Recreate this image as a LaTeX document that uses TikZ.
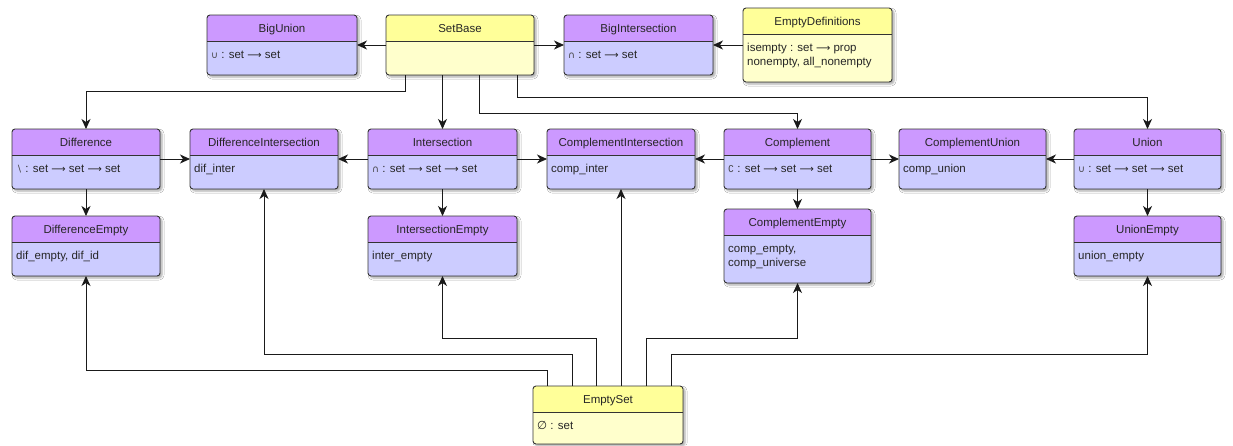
\documentclass[tikz,border=0pt]{standalone}
\usepackage{fontspec}
\setmainfont{Liberation Sans}
\newfontfamily\symfont{DejaVu Sans}
\usetikzlibrary{arrows.meta,shadows.blur,calc}

\definecolor{violethead}{HTML}{CC99FF}
\definecolor{violetbody}{HTML}{CCCCFF}
\definecolor{yellowhead}{HTML}{FFFF99}
\definecolor{yellowbody}{HTML}{FFFFCC}
\definecolor{framegray}{HTML}{333333}
\definecolor{wire}{HTML}{1A1A1A}
\definecolor{symgray}{HTML}{444444}

% header height, title baseline and first body baseline below the top edge
\def\headh{26.5pt}
\def\titledrop{17.25pt}
\def\bodydrop{43pt}

% small operator glyphs and the function arrow
\newcommand\op[1]{{\symfont\fontsize{9.5}{12}\selectfont\color{symgray}#1}}
\newcommand\fto{{\symfont\fontsize{10}{12}\selectfont ⟶}}

% class box: #1 colour scheme, #2 name, #3 left, #4 top, #5 width, #6 height, #7 title, #8 body
\newcommand\umlclass[8]{%
  \node[classframe, fill=#1body, minimum width=#5pt, minimum height=#6pt] (#2) at (#3,#4) {};
  \begin{scope}
    \clip[rounded corners=3pt] (#2.north west) rectangle (#2.south east);
    \fill[#1head] (#2.north west) rectangle ([yshift=-\headh]#2.north east);
  \end{scope}
  \draw[framegray, line width=0.8pt] ([yshift=-\headh]#2.north west) -- ([yshift=-\headh]#2.north east);
  \draw[framegray, line width=0.9pt, rounded corners=3pt] (#2.north west) rectangle (#2.south east);
  \node[titletext] (#2-title) at ([yshift=-\titledrop]#2.north) {#7};
  \node[bodytext] (#2-body) at ([xshift=4pt,yshift=-\bodydrop]#2.north west) {#8};
}
\newcommand\twolines[2]{\vtop{\hbox{#1}\hbox{#2}}}

\tikzset{
  classframe/.style={rectangle, anchor=north west, inner sep=0pt, outer sep=0pt,
    rounded corners=3pt,
    blur shadow={shadow xshift=2pt, shadow yshift=-2pt, shadow blur radius=2pt, shadow opacity=35}},
  titletext/.style={anchor=base, inner sep=0pt, text=black!85,
    font=\fontsize{11.5}{14}\selectfont},
  bodytext/.style={anchor=base west, inner sep=0pt, text=black!85,
    font=\fontsize{11.5}{14}\selectfont},
  arr/.style={draw=wire, line width=0.9pt, -{Stealth[length=10pt,width=9pt,inset=3pt]}},
}

\begin{document}
\begin{tikzpicture}[x=1pt,y=-1pt]
  \fill[white] (0,0) rectangle (1233,445);
  \useasboundingbox (0,0) rectangle (1233,445);

  % top row
  \umlclass{violet}{bigunion}{207}{15}{150}{60}{BigUnion}{\op{∪} : set \fto{} set}
  \umlclass{yellow}{setbase}{386}{15}{148}{60}{SetBase}{}
  \umlclass{violet}{biginter}{564}{15}{149}{60}{BigIntersection}{\op{∩} : set \fto{} set}
  \umlclass{yellow}{emptydefs}{743}{8}{149}{74}{EmptyDefinitions}{\twolines{isempty : set \fto{} prop}{nonempty, all\_nonempty}}

  % operations
  \umlclass{violet}{difference}{12}{129}{148}{60}{Difference}{\op{∖} : set \fto{} set \fto{} set}
  \umlclass{violet}{diffinter}{190}{129}{148}{60}{DifferenceIntersection}{dif\_inter}
  \umlclass{violet}{intersection}{368}{129}{149}{60}{Intersection}{\op{∩} : set \fto{} set \fto{} set}
  \umlclass{violet}{compinter}{547}{129}{148}{60}{ComplementIntersection}{comp\_inter}
  \umlclass{violet}{complement}{724}{129}{147}{60}{Complement}{\op{∁} : set \fto{} set \fto{} set}
  \umlclass{violet}{compunion}{899}{129}{147}{60}{ComplementUnion}{comp\_union}
  \umlclass{violet}{union}{1074}{129}{147}{60}{Union}{\op{∪} : set \fto{} set \fto{} set}

  % emptiness lemmas
  \umlclass{violet}{diffempty}{12}{216}{148}{60}{DifferenceEmpty}{dif\_empty, dif\_id}
  \umlclass{violet}{interempty}{368}{216}{149}{60}{IntersectionEmpty}{inter\_empty}
  \umlclass{violet}{compempty}{724}{209}{147}{74}{ComplementEmpty}{\twolines{comp\_empty,}{comp\_universe}}
  \umlclass{violet}{unionempty}{1074}{216}{147}{60}{UnionEmpty}{union\_empty}

  \umlclass{yellow}{emptyset}{533}{386}{150}{58}{EmptySet}{{\symfont ∅} : set}

  % dependencies of the top row
  \draw[arr] (setbase.west) -- (bigunion.east);
  \draw[arr] (setbase.east) -- (biginter.west);
  \draw[arr] (emptydefs.west) -- (biginter.east);

  % SetBase to the operations
  \draw[arr] ([xshift=-55pt]setbase.south) -- ++(0,16) -| (difference.north);
  \draw[arr] (setbase.south -| intersection.north) -- (intersection.north);
  \draw[arr] ([xshift=19pt]setbase.south) -- ++(0,38) -| (complement.north);
  \draw[arr] ([xshift=57pt]setbase.south) -- ++(0,22) -| (union.north);

  % combined lemmas
  \draw[arr] (difference.east) -- (diffinter.west);
  \draw[arr] (intersection.west) -- (diffinter.east);
  \draw[arr] (intersection.east) -- (compinter.west);
  \draw[arr] (complement.west) -- (compinter.east);
  \draw[arr] (complement.east) -- (compunion.west);
  \draw[arr] (union.west) -- (compunion.east);

  % operation to emptiness lemma
  \draw[arr] (difference.south) -- (diffempty.north);
  \draw[arr] (intersection.south) -- (interempty.north);
  \draw[arr] (complement.south) -- (compempty.north);
  \draw[arr] (union.south) -- (unionempty.north);

  % EmptySet fan-out
  \draw[arr] ([xshift=-61pt]emptyset.north) -- ++(0,-16) -| (diffempty.south);
  \draw[arr] ([xshift=-36pt]emptyset.north) -- ++(0,-32) -| (diffinter.south);
  \draw[arr] ([xshift=-12pt]emptyset.north) -- ++(0,-48) -| (interempty.south);
  \draw[arr] (emptyset.north -| compinter.south) -- (compinter.south);
  \draw[arr] ([xshift=38pt]emptyset.north) -- ++(0,-48) -| (compempty.south);
  \draw[arr] ([xshift=63pt]emptyset.north) -- ++(0,-32) -| (unionempty.south);
\end{tikzpicture}
\end{document}
